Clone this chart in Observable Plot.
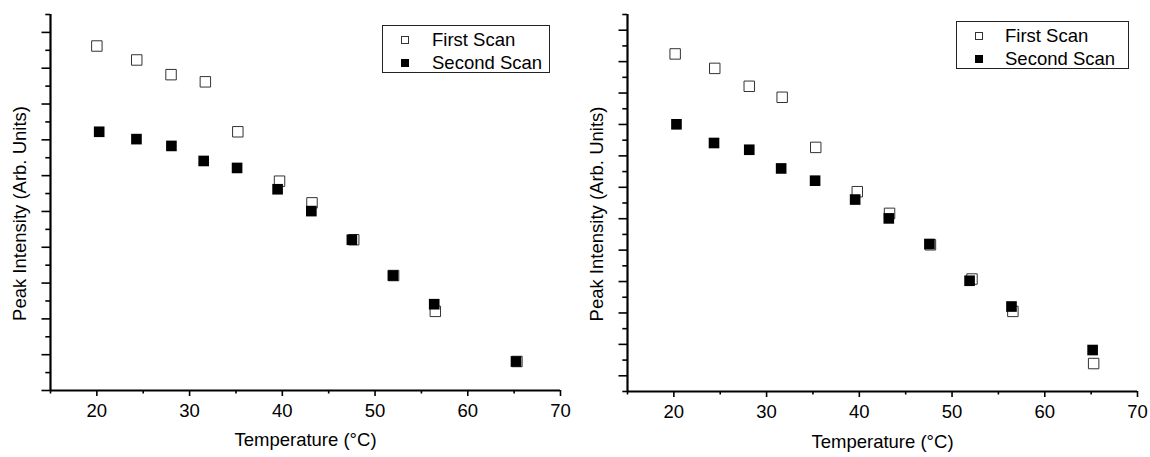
<!DOCTYPE html>
<html>
<head>
<meta charset="utf-8">
<script src="https://cdn.jsdelivr.net/npm/d3@7"></script>
<script src="https://cdn.jsdelivr.net/npm/@observablehq/plot@0.6"></script>
<style>
  html, body { margin: 0; padding: 0; background: #fff; }
  #wrap { position: relative; width: 1150px; height: 457px; font-family: "Liberation Sans", Arial, sans-serif; }
  .panel { position: absolute; top: 0; }
  .legend { position: absolute; border: 1px solid #222; background: #fff; box-sizing: border-box; font-size: 18.5px; color: #000; }
  .legend .row { position: absolute; left: 0; height: 20px; line-height: 20px; white-space: nowrap; }
  .legend .sym { position: absolute; width: 8px; height: 8px; box-sizing: border-box; top: 6px; }
  .legend .open { border: 1px solid #333; background: #fff; }
  .legend .filled { background: #000; }
  .legend .lbl { position: absolute; top: 0; }
</style>
</head>
<body>
<div id="wrap"></div>
<script>
// ---- data (temperature in °C, intensity in arbitrary units) ----
const leftFirstT   = [20.0, 24.3, 28.0, 31.7, 35.2, 39.7, 43.2, 47.7, 52.0, 56.5, 65.3];
const leftFirstI   = [19.24, 18.46, 17.64, 17.24, 14.45, 11.69, 10.48, 8.42, 6.42, 4.42, 1.62];
const leftSecondT  = [20.25, 24.27, 28.04, 31.52, 35.12, 39.49, 43.13, 47.5, 51.93, 56.38, 65.2];
const leftSecondI  = [14.45, 14.04, 13.66, 12.82, 12.43, 11.24, 10.02, 8.42, 6.42, 4.82, 1.62];

const rightFirstT  = [20.14, 24.41, 28.13, 31.68, 35.3, 39.78, 43.26, 47.67, 52.15, 56.56, 65.27];
const rightFirstI  = [21.49, 20.57, 19.43, 18.73, 15.54, 12.72, 11.34, 9.34, 7.16, 5.10, 1.78];
const rightSecondT = [20.28, 24.33, 28.13, 31.57, 35.23, 39.55, 43.18, 47.56, 51.89, 56.41, 65.16];
const rightSecondI = [17.01, 15.82, 15.39, 14.20, 13.42, 12.22, 11.02, 9.39, 7.05, 5.41, 2.64];

const seriesNames = ["First Scan", "Second Scan"];
const xMajorTicks = [20, 30, 40, 50, 60, 70];
const xMinorTicks = [15, 25, 35, 45, 55, 65];
const xLabel = "Temperature (°C)";
const yLabel = "Peak Intensity (Arb. Units)";

function rows(T, I) { return T.map((t, i) => ({t, v: I[i]})); }

function panel({firstT, firstI, secondT, secondI, yMax, yMajorStart, left, marginLeft, marginRight, marginBottom, xLabelDy, legend}) {
  const yMajor = d3.range(yMajorStart, yMax + 0.5, 2);
  const yMinor = d3.range(1 - yMajorStart, yMax + 0.5, 2);
  const chart = Plot.plot({
    width: 575,
    height: 457,
    marginLeft, marginRight, marginTop: 14, marginBottom,
    style: {fontFamily: '"Liberation Sans", Arial, sans-serif', fontSize: "18.5px", color: "#000", background: "#fff", overflow: "visible"},
    x: {domain: [15, 70]},
    y: {domain: [0, yMax]},
    marks: [
      Plot.axisY({ticks: yMajor, tickSize: 8.5, strokeWidth: 1.6, fill: "none"}),
      Plot.axisY({ticks: yMinor, tickSize: 4.7, strokeWidth: 1.6, fill: "none"}),
      Plot.axisX({ticks: xMajorTicks, tickSize: 6, tickPadding: 7, strokeWidth: 1.6, label: null, tickFormat: d => String(d)}),
      Plot.axisX({ticks: xMinorTicks, tickSize: 3.5, strokeWidth: 1.6, fill: "none"}),
      Plot.ruleX([15], {strokeWidth: 2.2}),
      Plot.ruleY([0], {strokeWidth: 2.2}),
      Plot.dot(rows(firstT, firstI), {x: "t", y: "v", symbol: "square", r: 5.9, fill: "#fff", stroke: "#333", strokeWidth: 1}),
      Plot.dot(rows(secondT, secondI), {x: "t", y: "v", symbol: "square", r: 6.0, fill: "#000", stroke: "none"}),
      Plot.text([xLabel], {text: d => d, frameAnchor: "bottom", textAnchor: "middle", dy: xLabelDy, fontSize: 18.5}),
      Plot.text([yLabel], {text: d => d, frameAnchor: "left", textAnchor: "middle", rotate: -90, dx: -30.5, dy: 11, fontSize: 18.5})
    ]
  });
  const div = document.createElement("div");
  div.className = "panel";
  div.style.left = left + "px";
  div.appendChild(chart);
  document.getElementById("wrap").appendChild(div);

  const lg = document.createElement("div");
  lg.className = "legend";
  Object.assign(lg.style, {left: legend.x + "px", top: legend.y + "px", width: legend.w + "px", height: legend.h + "px"});
  seriesNames.forEach((name, i) => {
    const row = document.createElement("div");
    row.className = "row";
    row.style.top = (legend.rowY[i] - 10) + "px";
    row.style.width = "100%";
    const s = document.createElement("div");
    s.className = "sym " + (i === 0 ? "open" : "filled");
    s.style.left = (legend.symX - 4) + "px";
    const l = document.createElement("div");
    l.className = "lbl";
    l.style.left = legend.textX + "px";
    l.textContent = name;
    row.appendChild(s); row.appendChild(l);
    lg.appendChild(row);
  });
  document.getElementById("wrap").appendChild(lg);
}

panel({firstT: leftFirstT, firstI: leftFirstI, secondT: leftSecondT, secondI: leftSecondI,
  yMax: 21, yMajorStart: 0, left: 0, marginLeft: 50, marginRight: 15, marginBottom: 67, xLabelDy: 55,
  legend: {x: 382, y: 25, w: 168, h: 48, symX: 22, textX: 49, rowY: [14, 36.5]}});

panel({firstT: rightFirstT, firstI: rightFirstI, secondT: rightSecondT, secondI: rightSecondI,
  yMax: 24, yMajorStart: 1, left: 575, marginLeft: 52, marginRight: 13, marginBottom: 66, xLabelDy: 56.5,
  legend: {x: 956, y: 21, w: 173, h: 48, symX: 21.5, textX: 48, rowY: [14, 36.5]}});
</script>
</body>
</html>
